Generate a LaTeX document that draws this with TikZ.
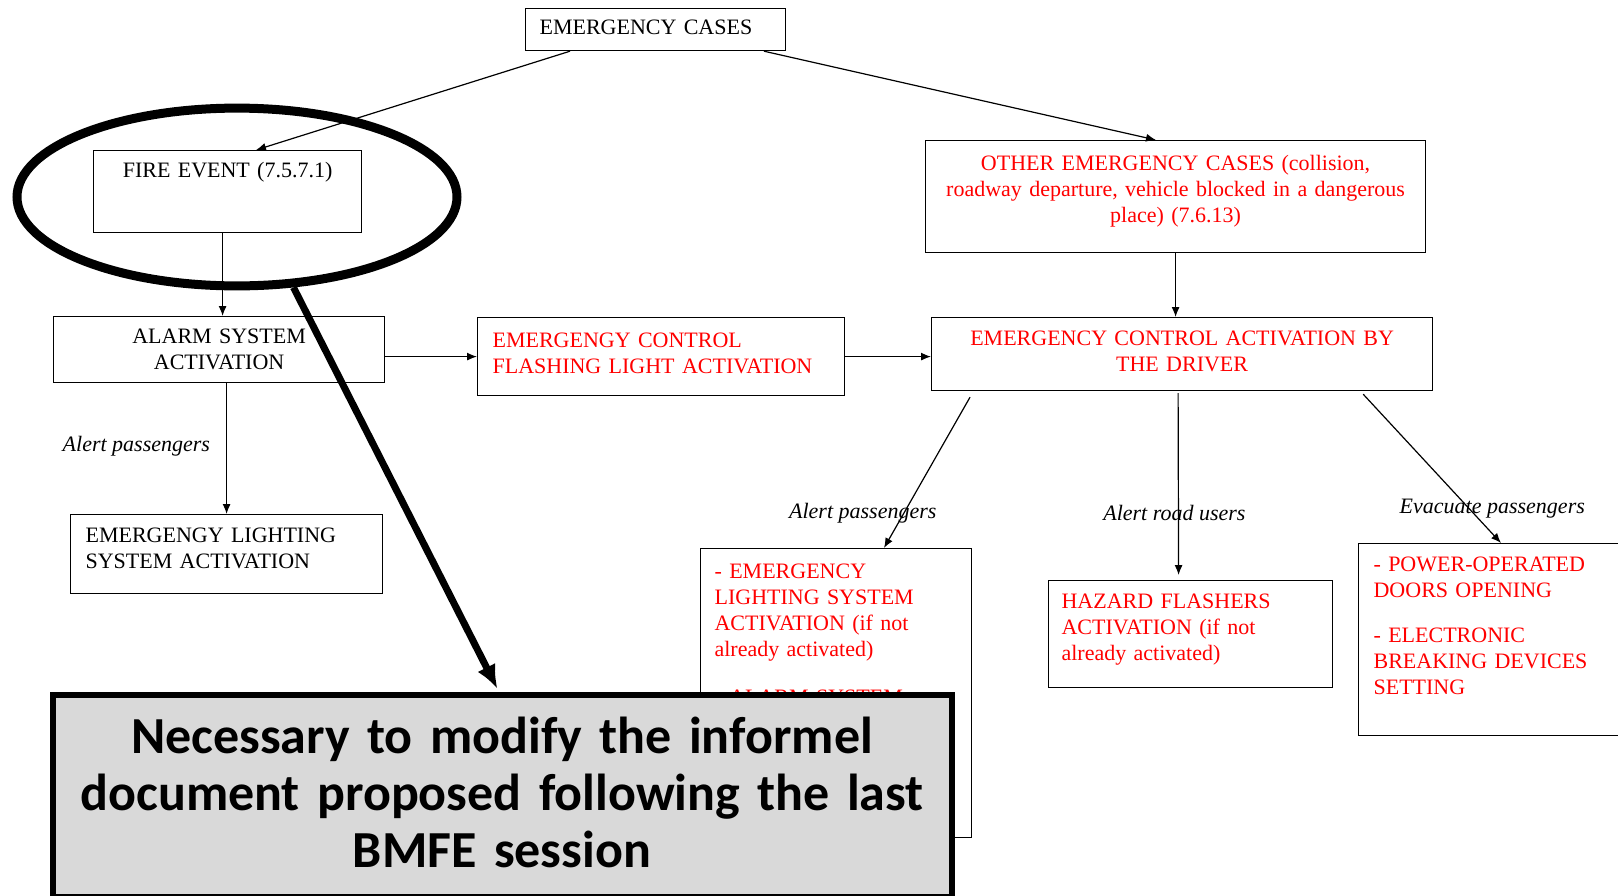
\documentclass[tikz,border=0pt]{standalone}
\usepackage{fontspec}
\setmainfont{Liberation Serif}
\newfontfamily\notefont{Carlito}
\usetikzlibrary{arrows.meta,shapes.geometric}

\begin{document}
\begin{tikzpicture}[x=0.5pt,y=-0.5pt,>={Latex[length=5pt,width=4pt]},
	box/.style={draw,line width=0.6pt,anchor=north west,inner ysep=0pt,
		font=\fontsize{11}{13}\selectfont},
	redbox/.style={box,text=alertred},
	lbl/.style={inner sep=0pt,font=\fontsize{11}{13}\selectfont\itshape},
	arr/.style={->,line width=0.6pt}]

\definecolor{alertred}{rgb}{1,0,0}
\definecolor{notegray}{RGB}{217,217,217}

\useasboundingbox (0,0) rectangle (1618,895);

% fire branch
\node[box,align=left,inner xsep=7pt,text width=116pt,text height=13pt,text depth=8pt]
	(cases) at (525,8) {EMERGENCY CASES};
\node[box,align=center,inner xsep=5pt,text width=124pt,text height=13.5pt,text depth=27.5pt]
	(fire) at (93,150) {FIRE EVENT (7.5.7.1)};
\node[box,align=center,inner xsep=5pt,text width=155.5pt,text height=13.5pt,text depth=19.5pt]
	(alarm) at (53,316) {ALARM SYSTEM\\ACTIVATION};
\node[box,align=left,inner xsep=7.5pt,text width=141pt,text height=14pt,text depth=25.5pt]
	(elight) at (70,514) {EMERGENGY LIGHTING\\SYSTEM ACTIVATION};
\node[redbox,align=left,inner xsep=7.5pt,text width=168.5pt,text height=15pt,text depth=24pt]
	(flash) at (477,317) {EMERGENGY CONTROL\\FLASHING LIGHT ACTIVATION};

% other cases
\node[redbox,align=center,inner xsep=5pt,text width=240pt,text height=15pt,text depth=41pt]
	(other) at (925,140) {OTHER EMERGENCY CASES (collision,\\roadway departure, vehicle blocked in a dangerous\\place) (7.6.13)};
\node[redbox,align=center,inner xsep=5pt,text width=240.5pt,text height=14pt,text depth=22.5pt]
	(driver) at (931,317) {EMERGENCY CONTROL ACTIVATION BY\\THE DRIVER};
\node[redbox,align=left,inner xsep=7pt,text width=121.5pt,text height=15pt,text depth=129.5pt]
	(alertp) at (700,548) {- EMERGENCY\\LIGHTING SYSTEM\\ACTIVATION (if not\\already activated)\\[11pt]- ALARM SYSTEM\\ACTIVATION};
\node[redbox,align=left,inner xsep=6.5pt,text width=129pt,text height=14pt,text depth=39.5pt]
	(hazard) at (1048,580) {HAZARD FLASHERS\\ACTIVATION (if not\\already activated)};
\node[redbox,align=left,inner xsep=7.5pt,text width=126pt,text height=14pt,text depth=82pt]
	(power) at (1358,543) {- POWER-OPERATED\\DOORS OPENING\\[9.5pt]- ELECTRONIC\\BREAKING DEVICES\\SETTING};

\draw[arr] ([xshift=22.5pt]cases.south west) -- ([xshift=81.5pt]fire.north west);
\draw[arr] ([xshift=119.5pt]cases.south west) -- ([xshift=115.5pt]other.north west);
\draw[arr] ([xshift=-2.5pt]fire.south) -- ([xshift=1.75pt]alarm.north);
\draw[arr] (alarm.east |- flash.west) -- (flash.west);
\draw[arr] (flash.east) -- (flash.east -| driver.west);
\draw[arr] (other.south) -- (other.south |- driver.north);
\draw[arr] (elight.north |- alarm.south) --
	node[lbl,pos=0.48,left=8pt] {Alert passengers} (elight.north);

\draw[arr] ([xshift=19.5pt,yshift=-3pt]driver.south west) --
	node[lbl,pos=0.77,xshift=-20.5pt] {Alert passengers} ([xshift=92pt]alertp.north west);
\draw[arr] ([xshift=-2pt,yshift=-1pt]driver.south) --
	node[lbl,pos=0.66,xshift=-2pt] {Alert road users} ([xshift=-6pt,yshift=2.5pt]hazard.north);
\draw[arr] ([xshift=-35pt,yshift=-1.5pt]driver.south east) --
	node[lbl,pos=0.767,xshift=11.7pt] {Evacuate passengers} ([xshift=71.5pt]power.north west);

% remark
\node[draw,ellipse,line width=4.5pt,inner sep=0pt,minimum width=220pt,minimum height=88.9pt]
	(ring) at (237,197) {};
\node[draw,line width=3pt,fill=notegray,anchor=north west,inner sep=0pt,
	text width=449.5pt,align=center,text height=29pt,text depth=71.75pt,
	font=\notefont\bfseries\fontsize{26}{28.7}\selectfont]
	(note) at (49.5,692) {Necessary to modify the informel\\document proposed following the last\\BMFE session};
\draw[line width=3.5pt,-{Latex[length=12pt,width=10pt]}]
	(ring.-58) -- ([xshift=224pt,yshift=1.5pt]note.north west);

\end{tikzpicture}
\end{document}
